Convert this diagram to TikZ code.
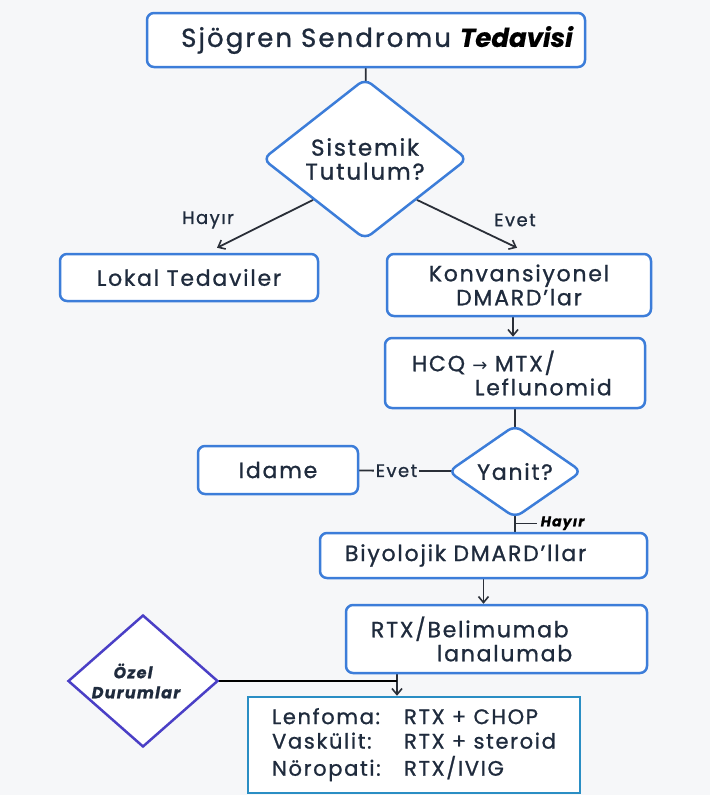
\documentclass[tikz,border=0pt]{standalone}
\usepackage{fontspec}
\setmainfont{Poppins}[LetterSpace=8, FakeBold=1]
\newfontfamily\popplain{Poppins}[FakeBold=0.6]
\newfontfamily\djv{DejaVu Sans}
\usetikzlibrary{shapes.geometric,arrows.meta,calc}
\definecolor{bgc}{HTML}{F6F7F9}
\definecolor{bblue}{HTML}{3C7DD9}
\definecolor{txt}{HTML}{1F2B3D}
\definecolor{lnc}{HTML}{2A2F38}
\definecolor{indig}{HTML}{4A3FC6}
\definecolor{tealb}{HTML}{2A8EC4}
\pgfdeclarelayer{back}
\pgfdeclarelayer{edges}
\pgfsetlayers{back,edges,main}
\begin{document}
\begin{tikzpicture}[x=1pt,y=-1pt,
  box/.style={draw=bblue, line width=2.5pt, rounded corners=7pt, fill=white, text=txt, font=\fontsize{22}{24}\selectfont, inner sep=0pt},
  dia/.style={diamond, draw=bblue, line width=2.5pt, rounded corners=8pt, fill=white, text=txt, inner sep=0pt, align=center},
  conn/.style={draw=lnc, line width=1.8pt},
  arr/.style={conn, -{Straight Barb[length=6pt,width=10pt,line width=1.6pt]}},
  lbl/.style={text=txt, font=\fontsize{18}{20}\selectfont, inner sep=1pt}
]
\begin{pgfonlayer}{back}
\fill[bgc] (0,0) rectangle (710,795);
\end{pgfonlayer}
\useasboundingbox (0,0) rectangle (710,795);

\node[box, minimum width=438, minimum height=54, font=\fontsize{26}{30}\selectfont] (title) at (366,40) {\hspace*{22pt}Sjögren Sendromu {\color{black}\popplain\bfseries\itshape Tedavisi}};
\node[dia, minimum width=205, minimum height=142, font=\fontsize{23}{24}\selectfont] (d1) at (365,159) {Sistemik\\Tutulum?};
\node[box, minimum width=258, minimum height=47] (lok) at (189,277.5) {Lokal Tedaviler};
\node[box, minimum width=264, minimum height=62, align=center] (konv) at (519,285) {Konvansiyonel\\DMARD’lar};
\node[box, minimum width=260, minimum height=70, text width=206, align=left] (hcq) at (515,373) {HCQ {\djv\fontsize{18}{20}\selectfont →} MTX/\\\hspace*{63pt}Leflunomid};
\node[dia, minimum width=134, minimum height=93, font=\fontsize{22}{25}\selectfont] (d2) at (515,471.5) {Yanit?};
\node[box, minimum width=160, minimum height=48] (idm) at (278,470) {Idame};
\node[box, minimum width=327, minimum height=45, text width=277, align=left] (biy) at (483.5,555.5) {Biyolojik DMARD’llar};
\node[box, minimum width=301, minimum height=68, text width=251, align=left] (rtx) at (496.5,639) {RTX/Belimumab\\\hspace*{66pt}lanalumab};
\node[diamond, draw=indig, line width=2.5pt, fill=white, minimum width=150, minimum height=132, inner sep=0pt, align=center, font=\fontsize{16}{20}\selectfont\bfseries\itshape, text=txt] (oz) at (143,681) {\hspace*{-20pt}Özel\\\hspace*{-14pt}Durumlar};
\node[draw=tealb, line width=2.5pt, fill=white, minimum width=332, minimum height=96, inner sep=0pt, text=txt, font=\fontsize{21}{24.5}\selectfont] (sp) at (414,745) {\begin{tabular}{@{}p{132pt}@{}l@{}}Lenfoma: & RTX + CHOP\\ Vaskülit: & RTX + steroid\\ Nöropati: & RTX/IVIG\end{tabular}};

\coordinate (xa) at (513,0);
\coordinate (xb) at (397,0);
\coordinate (hy) at ($(d2.south)+(1,4)$);

\begin{pgfonlayer}{edges}
\draw[conn] (title.center) -- (d1.center);
\draw[arr] (d1.south west) -- ($(lok.north)+(28,-5)$);
\draw[arr] (d1.south east) -- ($(konv.north)+(-2,-5)$);
\draw[arr] (konv.south -| xa) -- (hcq.north -| xa);
\draw[conn] (hcq.center) -- (d2.center);
\draw[conn] (idm.center) -- node[lbl, fill=bgc, inner xsep=2pt] (le2) {Evet} (d2.center);
\draw[conn] (d2.center) -- (d2.center |- biy.north);
\draw[conn, line width=1.5pt] (hy) -- ++(21,0) node[right, text=black, font=\fontsize{14}{15}\selectfont\bfseries\itshape, inner sep=3pt] (lh2) {Hayır};
\draw[arr] (biy.south) -- (biy.south |- rtx.north);
\draw[arr] (rtx.south -| xb) -- (sp.north -| xb);
\draw[line width=2.5pt, black] (oz.center) -- (oz.center -| xb);
\end{pgfonlayer}

\node[lbl] (lh) at (208,220) {Hayır};
\node[lbl] (le) at (515,220) {Evet};
\end{tikzpicture}
\end{document}
